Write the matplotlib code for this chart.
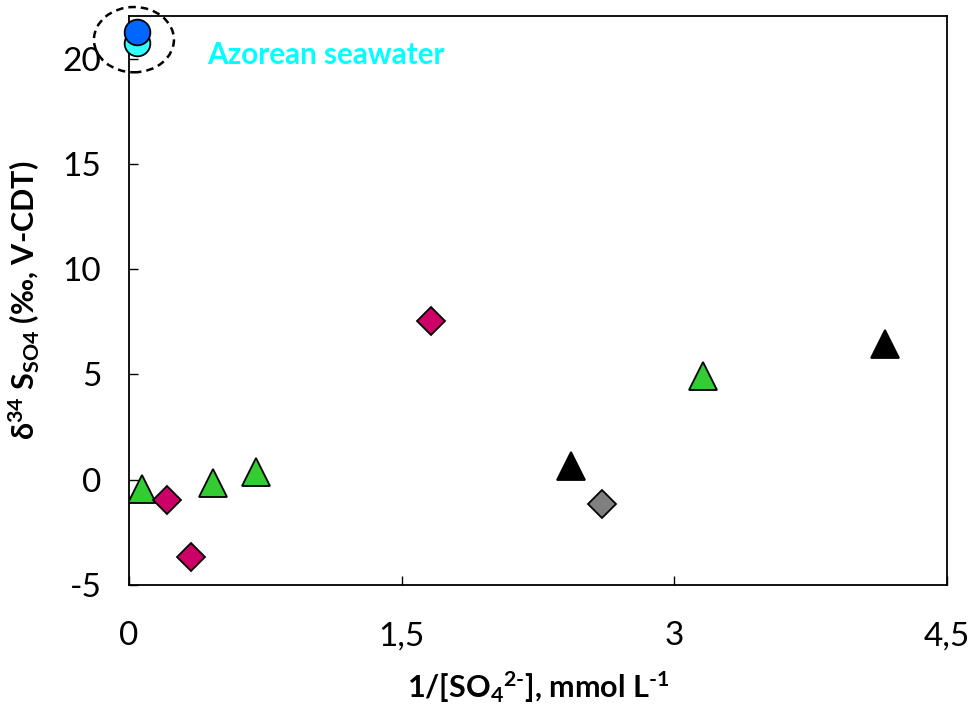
import numpy as np
import matplotlib
matplotlib.use("Agg")
import matplotlib.pyplot as plt
from matplotlib.patches import Ellipse

plt.rcParams['font.family'] = ['Lato', 'DejaVu Sans']
plt.rcParams['mathtext.fontset'] = 'custom'
plt.rcParams['mathtext.rm'] = 'Lato:bold'
plt.rcParams['mathtext.it'] = 'Lato:bold'
plt.rcParams['mathtext.bf'] = 'Lato:bold'
plt.rcParams['mathtext.default'] = 'regular'
plt.rcParams['axes.unicode_minus'] = False

# seawater
sea_x = [0.042, 0.042]
sea_y = [20.75, 21.25]
sea_colors = ['#33FFFF', '#0066FF']

# green triangles
green_x = [0.07, 0.46, 0.70, 3.16]
green_y = [-0.45, -0.15, 0.35, 4.95]

# magenta diamonds
mag_x = [0.21, 0.34, 1.66]
mag_y = [-0.95, -3.65, 7.55]

# black triangles
black_x = [2.43, 4.16]
black_y = [0.65, 6.45]

# gray diamond
gray_x = [2.60]
gray_y = [-1.15]

fig = plt.figure(figsize=(9.71, 7.08), dpi=100)
ax = fig.add_axes([0.1329, 0.1737, 0.8424, 0.803])

mew = 1.3
ax.plot(green_x, green_y, '^', ms=20, mfc='#33CC33', mec='black', mew=mew, ls='none', zorder=3)
ax.plot(mag_x, mag_y, 'D', ms=14, mfc='#CC0066', mec='black', mew=mew, ls='none', zorder=3)
ax.plot(black_x, black_y, '^', ms=20, mfc='black', mec='black', mew=mew, ls='none', zorder=3)
ax.plot(gray_x, gray_y, 'D', ms=14, mfc='#808080', mec='black', mew=mew, ls='none', zorder=3)
for x, y, c in zip(sea_x, sea_y, sea_colors):
    ax.plot(x, y, 'o', ms=18.5, mfc=c, mec='black', mew=mew, clip_on=False, zorder=4)

ell = Ellipse((0.027, 20.9), 0.44, 3.1, fill=False, ec='black', lw=1.8,
              ls=(0, (3, 2)), clip_on=False, zorder=5)
ax.add_patch(ell)

ax.text(0.43, 20.15, 'Azorean seawater', color='#00FFFF', fontsize=21.3,
        fontweight='bold', va='center', ha='left')

ax.set_xlim(0, 4.5)
ax.set_ylim(-5, 22)
ax.set_xticks([0, 1.5, 3, 4.5])
ax.set_xticklabels(['0', '1,5', '3', '4,5'])
ax.set_yticks([-5, 0, 5, 10, 15, 20])
ax.tick_params(direction='in', length=6.5, width=1, labelsize=24)
ax.tick_params(axis='x', pad=26)
ax.tick_params(axis='y', pad=20)
for s in ax.spines.values():
    s.set_linewidth(1.3)

ax.set_xlabel(r'1/[SO$_4$$^{2\text{-}}$], mmol L$^{\text{-}1}$', fontsize=22, fontweight='bold', labelpad=13)
ax.set_ylabel(r'δ$^{34}$ S$_{SO4}$ (‰, V-CDT)', fontsize=22, fontweight='bold', labelpad=15)

fig.savefig('out.png', dpi=100)
